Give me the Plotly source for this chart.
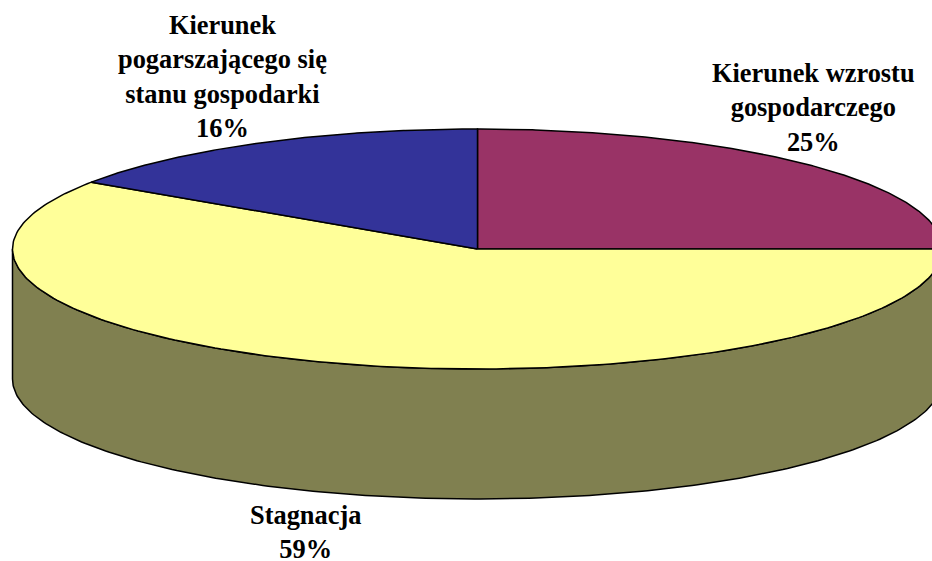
import numpy as np
import plotly.graph_objects as go

# Data (clockwise from 12 o'clock)
labels = ["Kierunek wzrostu<br>gospodarczego", "Stagnacja", "Kierunek<br>pogarszającego się<br>stanu gospodarki"]
values = [25.0, 59.4, 15.6]
colors = ["#993366", "#FFFF99", "#333399"]
wall_color = "#808050"
label_pos = [(813.5, 107), (305, 532), (222, 76.5)]

# Pie projection on the page
CX, CY, RX, RY, DEPTH = 477.5, 249, 465, 120, 130
W, H = 932, 561
LINE = dict(color="#000000", width=1.5)

def rim(a, b, n=240, dy=0):
    t = np.radians(np.linspace(a, b, n))
    return CX + RX * np.sin(t), CY + dy - RY * np.cos(t)

fig = go.Figure()

# Side wall: front half of the rim extruded downward
x1, y1 = rim(90, 270)
x2, y2 = rim(270, 90, dy=DEPTH)
fig.add_trace(go.Scatter(
    x=np.r_[x1, x2, x1[0]], y=np.r_[y1, y2, y1[0]], mode="lines",
    fill="toself", fillcolor=wall_color, line=LINE, hoverinfo="skip", showlegend=False))

# Top face slices
total = sum(values)
start = 0.0
for name, v, c in zip(labels, values, colors):
    end = start + 360.0 * v / total
    xs, ys = rim(start, end)
    fig.add_trace(go.Scatter(
        x=np.r_[CX, xs, CX], y=np.r_[CY, ys, CY], mode="lines",
        fill="toself", fillcolor=c, line=LINE,
        name=name.replace("<br>", " "), showlegend=False,
        hovertemplate=f"{round(v)}%<extra>{name.replace('<br>', ' ')}</extra>"))
    start = end

# Data labels
for name, v, (lx, ly) in zip(labels, values, label_pos):
    fig.add_annotation(
        x=lx, y=ly, xref="x", yref="y", showarrow=False, align="center",
        xanchor="center", yanchor="middle",
        text=f"<b>{name}<br>{round(v)}%</b>",
        font=dict(family="Liberation Serif, Times New Roman, serif", size=26.4, color="#000000"))

fig.update_xaxes(range=[0, W], visible=False, fixedrange=True)
fig.update_yaxes(range=[H, 0], visible=False, fixedrange=True)
fig.update_layout(
    width=W, height=H, margin=dict(l=0, r=0, t=0, b=0),
    paper_bgcolor="#FFFFFF", plot_bgcolor="#FFFFFF", showlegend=False)

fig.write_html("out.html", config={"displayModeBar": False},
               post_script="document.body.style.margin='0';document.body.style.overflow='hidden';")
